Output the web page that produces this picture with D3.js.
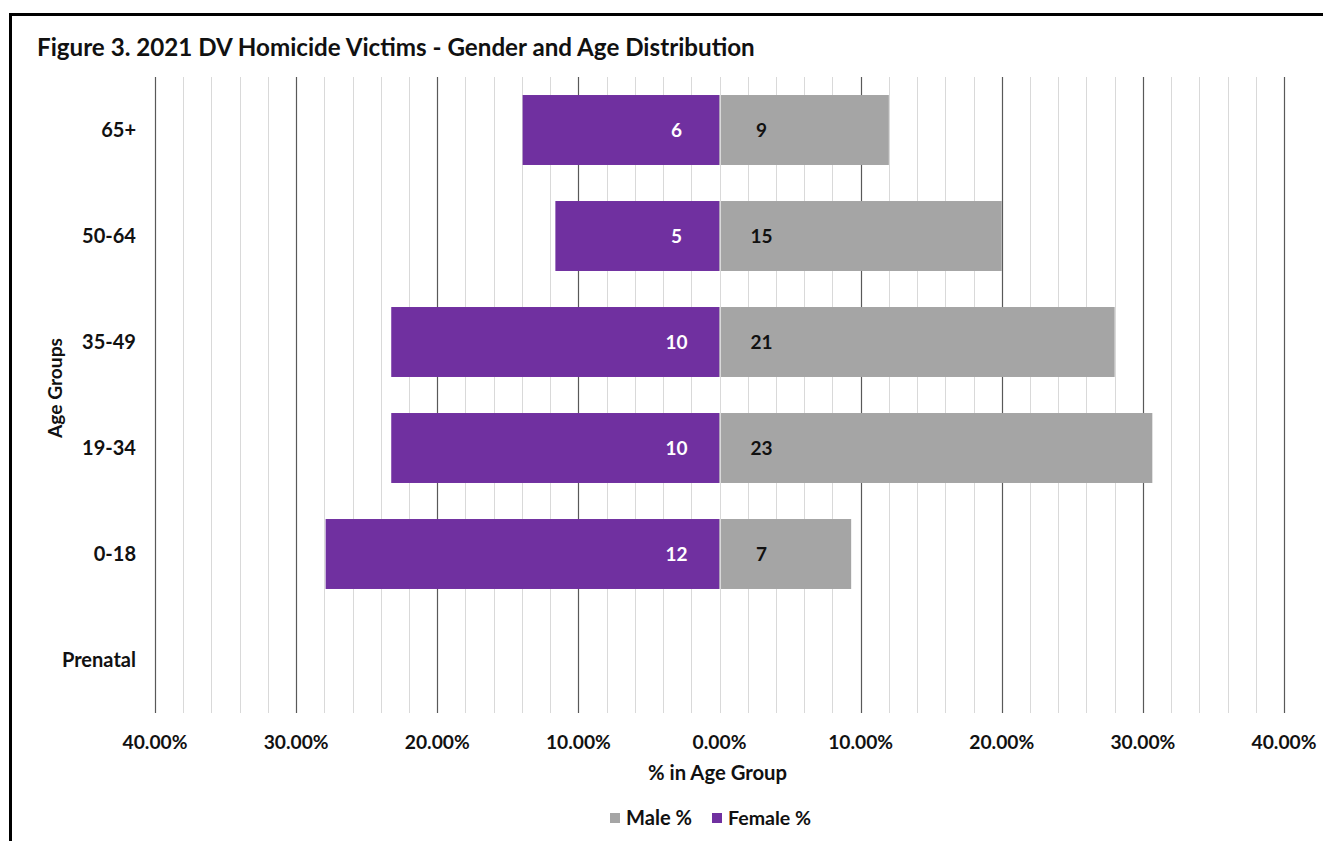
<!DOCTYPE html>
<html>
<head>
<meta charset="utf-8">
<script src="https://cdn.jsdelivr.net/npm/d3@7"></script>
<style>
  html, body { margin: 0; padding: 0; background: #fff; }
  svg { display: block; }
  text { font-family: Lato, "Open Sans", sans-serif; font-weight: bold; fill: #111; }
</style>
</head>
<body>
<svg id="chart" width="1323" height="841"></svg>
<script>
// ---- Data ----
const ageGroups   = ["65+", "50-64", "35-49", "19-34", "0-18", "Prenatal"];
const malePct     = [12.00, 20.00, 28.00, 30.67, 9.33, 0];
const femalePct   = [13.95, 11.63, 23.26, 23.26, 27.91, 0];
const maleCount   = [9, 15, 21, 23, 7, null];
const femaleCount = [6, 5, 10, 10, 12, null];
const majorTicks  = [-40, -30, -20, -10, 0, 10, 20, 30, 40];
const minorTicks  = d3.range(-40, 40.001, 2);
const titleText   = "Figure 3. 2021 DV Homicide Victims - Gender and Age Distribution";
const xTitle      = "% in Age Group";
const yTitle      = "Age Groups";
const legendItems = [{ name: "Male %", color: "#A5A5A5" }, { name: "Female %", color: "#7030A0" }];

const colors = { male: "#A5A5A5", female: "#7030A0" };

const svg = d3.select("#chart");
const W = 1323, H = 841;

// Outer frame (extends beyond the right and bottom edges)
svg.append("rect")
  .attr("x", 10.5).attr("y", 14.5)
  .attr("width", W + 20).attr("height", H + 20)
  .attr("fill", "#fff").attr("stroke", "#000").attr("stroke-width", 3);

const plot = { left: 155, right: 1284, top: 77, bottom: 713 };

const x = d3.scaleLinear().domain([-40, 40]).range([plot.left, plot.right]);
const y = d3.scaleBand().domain(ageGroups).range([plot.top, plot.bottom]).paddingInner(0.34).paddingOuter(0.17);

function fit(sel, target) {
  const node = sel.node();
  let fs = parseFloat(sel.attr("font-size"));
  for (let i = 0; i < 3; i++) {
    const w = node.getComputedTextLength();
    if (w > 0) { fs = fs * target / w; sel.attr("font-size", fs); }
  }
  return fs;
}

// Title
const title = svg.append("text")
  .attr("x", 37).attr("y", 56)
  .attr("font-size", 20)
  .text(titleText);
fit(title, 718);

// Gridlines
svg.append("g").selectAll("line")
  .data(minorTicks.filter(d => d % 10 !== 0 || d === 0))
  .join("line")
  .attr("x1", d => Math.round(x(d)) + 0.5).attr("x2", d => Math.round(x(d)) + 0.5)
  .attr("y1", plot.top).attr("y2", plot.bottom)
  .attr("stroke", "#D9D9D9").attr("stroke-width", 1);

svg.append("g").selectAll("line")
  .data(majorTicks.filter(d => d !== 0))
  .join("line")
  .attr("x1", d => Math.round(x(d)) + 0.5).attr("x2", d => Math.round(x(d)) + 0.5)
  .attr("y1", plot.top).attr("y2", plot.bottom)
  .attr("stroke", "#595959").attr("stroke-width", 1.2);

// Bars
const rows = ageGroups.map((g, i) => ({ g, m: malePct[i], f: femalePct[i], mc: maleCount[i], fc: femaleCount[i] }));

svg.append("g").selectAll("rect")
  .data(rows.filter(r => r.f > 0))
  .join("rect")
  .attr("x", d => x(-d.f)).attr("width", d => x(0) - x(-d.f))
  .attr("y", d => y(d.g)).attr("height", y.bandwidth())
  .attr("fill", colors.female);

svg.append("g").selectAll("rect")
  .data(rows.filter(r => r.m > 0))
  .join("rect")
  .attr("x", x(0)).attr("width", d => x(d.m) - x(0))
  .attr("y", d => y(d.g)).attr("height", y.bandwidth())
  .attr("fill", colors.male);

// Zero axis line (light)
svg.append("line")
  .attr("x1", Math.round(x(0)) + 0.5).attr("x2", Math.round(x(0)) + 0.5)
  .attr("y1", plot.top).attr("y2", plot.bottom)
  .attr("stroke", "#D9D9D9").attr("stroke-width", 1);

// Bar labels
svg.append("g").selectAll("text")
  .data(rows.filter(r => r.fc != null))
  .join("text")
  .attr("x", x(0) - 43).attr("y", d => y(d.g) + y.bandwidth() / 2)
  .attr("dy", "0.35em").attr("text-anchor", "middle")
  .attr("font-size", 19).style("fill", "#fff")
  .text(d => d.fc);

svg.append("g").selectAll("text")
  .data(rows.filter(r => r.mc != null))
  .join("text")
  .attr("x", x(0) + 42).attr("y", d => y(d.g) + y.bandwidth() / 2)
  .attr("dy", "0.35em").attr("text-anchor", "middle")
  .attr("font-size", 19)
  .text(d => d.mc);

// Y category labels
const yl = svg.append("g").selectAll("text")
  .data(ageGroups)
  .join("text")
  .attr("x", 136).attr("y", d => y(d) + y.bandwidth() / 2)
  .attr("dy", "0.35em").attr("text-anchor", "end")
  .attr("font-size", 17)
  .text(d => d);
const fsY = fit(d3.select(yl.nodes()[ageGroups.length - 1]), 74);
yl.attr("font-size", fsY);

// X tick labels
const tl = svg.append("g").selectAll("text")
  .data(majorTicks)
  .join("text")
  .attr("x", d => x(d)).attr("y", 742)
  .attr("dy", "0.35em").attr("text-anchor", "middle")
  .attr("font-size", 17)
  .text(d => Math.abs(d).toFixed(2) + "%");
const fsTick = fit(d3.select(tl.nodes()[0]), 65);
tl.attr("font-size", fsTick);

// Axis titles
const xt = svg.append("text")
  .attr("x", x(0) - 2).attr("y", 773).attr("dy", "0.35em")
  .attr("text-anchor", "middle").attr("font-size", 17)
  .text(xTitle);
fit(xt, 139);

const yt = svg.append("text")
  .attr("transform", "translate(55,388) rotate(-90)")
  .attr("dy", "0.35em").attr("text-anchor", "middle").attr("font-size", 17)
  .text(yTitle);
fit(yt, 100);

// Legend
const leg = svg.append("g");
const legX = [610, 712];
legendItems.forEach((it, i) => {
  leg.append("rect").attr("x", legX[i]).attr("y", 813).attr("width", 10).attr("height", 10).attr("fill", it.color);
  const t = leg.append("text").attr("x", legX[i] + 16).attr("y", 818).attr("dy", "0.35em")
    .attr("font-size", fsTick).text(it.name);
  if (i === 0) fit(t, 66);
  else fit(t, 83);
});
</script>
</body>
</html>
